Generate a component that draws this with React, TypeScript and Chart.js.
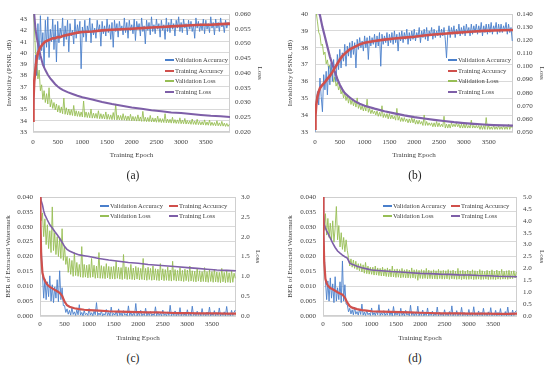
import React, { useEffect, useRef } from 'react';
import { Chart, registerables } from 'chart.js';

Chart.register(...registerables);

// ---------------- data ----------------
const EPOCHS_VAL = [
  0, 25, 50, 75, 100, 125, 150, 175, 200, 225,
  250, 275, 300, 325, 350, 375, 400, 425, 450, 475,
  500, 525, 550, 575, 600, 625, 650, 675, 700, 725,
  750, 775, 800, 825, 850, 875, 900, 925, 950, 975,
  1000, 1025, 1050, 1075, 1100, 1125, 1150, 1175, 1200, 1225,
  1250, 1275, 1300, 1325, 1350, 1375, 1400, 1425, 1450, 1475,
  1500, 1525, 1550, 1575, 1600, 1625, 1650, 1675, 1700, 1725,
  1750, 1775, 1800, 1825, 1850, 1875, 1900, 1925, 1950, 1975,
  2000, 2025, 2050, 2075, 2100, 2125, 2150, 2175, 2200, 2225,
  2250, 2275, 2300, 2325, 2350, 2375, 2400, 2425, 2450, 2475,
  2500, 2525, 2550, 2575, 2600, 2625, 2650, 2675, 2700, 2725,
  2750, 2775, 2800, 2825, 2850, 2875, 2900, 2925, 2950, 2975,
  3000, 3025, 3050, 3075, 3100, 3125, 3150, 3175, 3200, 3225,
  3250, 3275, 3300, 3325, 3350, 3375, 3400, 3425, 3450, 3475,
  3500, 3525, 3550, 3575, 3600, 3625, 3650, 3675, 3700, 3725,
  3750, 3775, 3800, 3825, 3850, 3875, 3900, 3925, 3950, 3975,
];
const EPOCHS_TRAIN = [
  0, 10, 25, 50, 75, 100, 150, 200, 250, 300,
  350, 400, 450, 500, 550, 600, 700, 800, 900, 1000,
  1200, 1400, 1600, 1800, 2000, 2200, 2400, 2600, 2800, 3000,
  3200, 3400, 3600, 3800, 3990,
];
const X_TICKS = [0, 500, 1000, 1500, 2000, 2500, 3000, 3500];
const SERIES_LABELS = ['Validation Accuracy', 'Training Accuracy', 'Validation Loss', 'Training Loss'];

// (a)
const A_VAL_ACC = [
  34.0, 36.5, 39.8, 38.0, 42.6, 39.4, 43.3, 40.2, 41.8, 38.7,
  42.9, 40.5, 43.2, 39.6, 42.1, 41.0, 43.0, 40.3, 42.5, 39.2,
  42.8, 40.9, 42.2, 41.4, 43.1, 40.6, 42.4, 41.2, 42.9, 40.1,
  42.6, 41.5, 42.0, 40.8, 43.0, 41.3, 42.5, 41.7, 42.8, 38.6,
  42.3, 41.4, 42.9, 41.0, 42.4, 41.8, 43.1, 40.9, 42.6, 41.6,
  42.2, 41.3, 42.9, 41.9, 42.5, 40.6, 42.8, 41.7, 42.4, 41.5,
  43.0, 41.8, 42.5, 41.2, 42.7, 40.5, 42.9, 41.9, 42.6, 41.4,
  42.8, 42.0, 42.4, 41.6, 43.1, 41.8, 42.7, 41.3, 42.9, 42.0,
  42.5, 41.7, 43.0, 41.1, 42.8, 42.1, 42.6, 41.5, 43.1, 41.9,
  42.4, 40.8, 42.9, 42.0, 42.7, 41.6, 43.2, 41.9, 42.5, 41.7,
  43.0, 42.1, 42.6, 41.4, 42.9, 42.0, 42.5, 41.2, 43.1, 41.9,
  42.7, 41.8, 43.0, 42.1, 42.6, 41.5, 42.9, 42.2, 43.2, 41.9,
  42.7, 41.8, 43.0, 42.2, 42.6, 41.6, 42.9, 42.1, 42.8, 41.9,
  42.5, 41.3, 43.1, 42.2, 42.8, 41.9, 42.6, 42.0, 43.0, 41.7,
  42.9, 42.1, 42.6, 41.8, 43.2, 42.2, 42.7, 41.6, 43.0, 42.2,
  42.7, 41.9, 43.1, 42.3, 42.6, 41.8, 42.9, 42.2, 42.7, 42.4,
];
const A_TRAIN_ACC = [
  34.0, 36.0, 37.5, 38.6, 39.5, 40.0, 40.5, 40.8, 41.0, 41.1,
  41.2, 41.3, 41.3, 41.4, 41.4, 41.5, 41.6, 41.7, 41.8, 41.85,
  41.9, 42.0, 42.05, 42.1, 42.15, 42.2, 42.25, 42.3, 42.35, 42.4,
  42.45, 42.5, 42.5, 42.55, 42.6,
];
const A_VAL_LOSS = [
  0.064, 0.057, 0.047, 0.044, 0.038, 0.041, 0.034, 0.036, 0.031, 0.034,
  0.030, 0.033, 0.0295, 0.035, 0.0285, 0.031, 0.028, 0.030, 0.0275, 0.0295,
  0.0268, 0.029, 0.0265, 0.0285, 0.0262, 0.0315, 0.0260, 0.0282, 0.0258, 0.0278,
  0.0257, 0.0276, 0.0256, 0.0290, 0.0254, 0.0272, 0.0253, 0.0270, 0.0252, 0.0268,
  0.0251, 0.0305, 0.0250, 0.0268, 0.0249, 0.0266, 0.0248, 0.0278, 0.0247, 0.0264,
  0.0247, 0.0263, 0.0246, 0.0272, 0.0245, 0.0262, 0.0245, 0.0260, 0.0244, 0.0268,
  0.0243, 0.0260, 0.0243, 0.0258, 0.0242, 0.0266, 0.0242, 0.0295, 0.0241, 0.0257,
  0.0241, 0.0256, 0.0240, 0.0262, 0.0240, 0.0255, 0.0239, 0.0254, 0.0239, 0.0260,
  0.0238, 0.0253, 0.0238, 0.0252, 0.0237, 0.0258, 0.0237, 0.0251, 0.0236, 0.0270,
  0.0236, 0.0250, 0.0235, 0.0249, 0.0235, 0.0256, 0.0234, 0.0248, 0.0234, 0.0247,
  0.0233, 0.0254, 0.0233, 0.0246, 0.0232, 0.0245, 0.0232, 0.0262, 0.0231, 0.0244,
  0.0231, 0.0243, 0.0230, 0.0250, 0.0230, 0.0242, 0.0229, 0.0241, 0.0229, 0.0248,
  0.0228, 0.0240, 0.0228, 0.0246, 0.0227, 0.0239, 0.0227, 0.0238, 0.0226, 0.0244,
  0.0226, 0.0237, 0.0225, 0.0243, 0.0225, 0.0236, 0.0224, 0.0235, 0.0224, 0.0241,
  0.0223, 0.0234, 0.0223, 0.0240, 0.0222, 0.0233, 0.0222, 0.0232, 0.0221, 0.0238,
  0.0221, 0.0231, 0.0220, 0.0236, 0.0220, 0.0230, 0.0219, 0.0229, 0.0219, 0.0226,
];
const A_TRAIN_LOSS = [
  0.070, 0.066, 0.060, 0.055, 0.052, 0.050, 0.046, 0.0428, 0.041, 0.0394,
  0.0382, 0.0372, 0.0362, 0.0354, 0.0348, 0.0343, 0.0335, 0.0329, 0.0323, 0.0318,
  0.0310, 0.0302, 0.0295, 0.0289, 0.0283, 0.0279, 0.0274, 0.0270, 0.0266, 0.0264,
  0.0261, 0.0258, 0.0255, 0.0253, 0.0251,
];
const A_LEFT_TICKS = [33, 34, 35, 36, 37, 38, 39, 40, 41, 42, 43];
const A_RIGHT_TICKS = [0.02, 0.025, 0.03, 0.035, 0.04, 0.045, 0.05, 0.055, 0.06];

// (b)
const B_VAL_ACC = [
  33.0, 34.8, 35.4, 34.6, 36.2, 35.1, 34.2, 36.4, 35.5, 36.6,
  35.2, 36.9, 35.8, 37.1, 36.0, 37.3, 36.3, 36.0, 37.6, 36.7,
  37.9, 36.8, 37.7, 37.2, 38.2, 36.9, 38.1, 37.5, 38.3, 37.4,
  38.4, 37.6, 38.3, 36.8, 38.5, 37.9, 38.6, 38.0, 38.4, 37.8,
  38.7, 38.0, 38.6, 37.3, 38.7, 38.1, 38.6, 38.2, 38.8, 38.0,
  38.7, 38.1, 38.9, 36.9, 38.8, 38.2, 38.7, 38.3, 38.9, 38.1,
  38.8, 38.3, 38.9, 38.2, 39.0, 38.3, 38.8, 37.8, 38.9, 38.4,
  39.0, 38.3, 38.9, 38.5, 39.1, 38.2, 38.9, 38.4, 39.0, 38.5,
  39.1, 38.4, 38.9, 38.6, 39.2, 38.3, 39.0, 38.6, 39.1, 38.5,
  39.2, 38.4, 39.0, 38.7, 39.2, 38.5, 39.1, 38.6, 39.0, 38.7,
  39.3, 38.6, 39.1, 38.7, 39.2, 38.5, 37.4, 38.8, 39.3, 38.6,
  39.2, 38.8, 39.3, 38.6, 39.1, 38.8, 39.4, 38.7, 39.2, 38.8,
  39.3, 38.7, 39.4, 38.9, 39.2, 38.7, 39.4, 38.8, 39.3, 38.9,
  39.4, 38.8, 39.3, 38.9, 39.5, 38.7, 39.3, 38.9, 39.4, 38.8,
  39.4, 38.9, 39.5, 38.8, 39.3, 39.0, 39.5, 38.8, 39.4, 38.9,
  39.4, 38.9, 39.3, 39.0, 39.5, 38.8, 39.4, 38.9, 39.2, 38.4,
];
const B_TRAIN_ACC = [
  33.2, 34.0, 34.6, 35.1, 35.4, 35.6, 35.8, 35.95, 36.15, 36.33,
  36.55, 36.8, 37.05, 37.3, 37.5, 37.65, 37.9, 38.05, 38.2, 38.3,
  38.4, 38.48, 38.55, 38.6, 38.65, 38.72, 38.78, 38.83, 38.88, 38.92,
  38.96, 39.0, 39.02, 39.04, 39.05,
];
const B_VAL_LOSS = [
  0.150, 0.141, 0.134, 0.126, 0.124, 0.116, 0.117, 0.109, 0.111, 0.102,
  0.105, 0.098, 0.101, 0.094, 0.096, 0.088, 0.092, 0.085, 0.088, 0.082,
  0.085, 0.079, 0.082, 0.076, 0.080, 0.074, 0.078, 0.072, 0.077, 0.071,
  0.075, 0.070, 0.074, 0.069, 0.076, 0.068, 0.071, 0.067, 0.070, 0.066,
  0.070, 0.066, 0.075, 0.065, 0.068, 0.064, 0.067, 0.064, 0.066, 0.063,
  0.066, 0.062, 0.065, 0.062, 0.070, 0.061, 0.064, 0.061, 0.064, 0.060,
  0.064, 0.060, 0.063, 0.060, 0.062, 0.059, 0.068, 0.059, 0.062, 0.058,
  0.061, 0.058, 0.061, 0.058, 0.060, 0.057, 0.060, 0.057, 0.061, 0.057,
  0.060, 0.056, 0.059, 0.056, 0.059, 0.056, 0.058, 0.055, 0.063, 0.055,
  0.058, 0.055, 0.057, 0.055, 0.057, 0.054, 0.057, 0.054, 0.058, 0.054,
  0.057, 0.054, 0.056, 0.054, 0.062, 0.053, 0.056, 0.053, 0.056, 0.053,
  0.057, 0.054, 0.056, 0.054, 0.057, 0.054, 0.056, 0.053, 0.056, 0.053,
  0.056, 0.053, 0.056, 0.053, 0.055, 0.053, 0.059, 0.053, 0.055, 0.053,
  0.055, 0.053, 0.055, 0.052, 0.055, 0.052, 0.055, 0.052, 0.061, 0.052,
  0.055, 0.052, 0.054, 0.052, 0.055, 0.052, 0.054, 0.052, 0.055, 0.052,
  0.054, 0.052, 0.055, 0.052, 0.054, 0.052, 0.056, 0.052, 0.055, 0.053,
];
const B_TRAIN_LOSS = [
  0.165, 0.158, 0.152, 0.146, 0.142, 0.139, 0.130, 0.1227, 0.115, 0.1075,
  0.1015, 0.0961, 0.0905, 0.086, 0.0825, 0.0797, 0.0763, 0.0735, 0.0715, 0.070,
  0.0678, 0.0658, 0.0642, 0.0627, 0.0614, 0.0603, 0.0593, 0.0584, 0.0575, 0.0568,
  0.0562, 0.0557, 0.0553, 0.055, 0.0548,
];
const B_LEFT_TICKS = [33, 34, 35, 36, 37, 38, 39, 40];
const B_RIGHT_TICKS = [0.05, 0.06, 0.07, 0.08, 0.09, 0.1, 0.11, 0.12, 0.13, 0.14];

// (c)
const C_VAL_ACC = [
  0.040, 0.024, 0.014, 0.006, 0.0125, 0.0055, 0.0115, 0.0065, 0.0135, 0.005,
  0.0105, 0.0045, 0.0098, 0.006, 0.0122, 0.0048, 0.0152, 0.0055, 0.0095, 0.0035,
  0.0035, 0.0012, 0.0024, 0.0006, 0.0019, 0.0003, 0.0028, 0.0005, 0.0014, 0.0002,
  0.0021, 0.0004, 0.0038, 0.0003, 0.0012, 0.0001, 0.0018, 0.0004, 0.0009, 0.0002,
  0.0025, 0.0003, 0.0011, 0.0001, 0.0016, 0.0004, 0.0045, 0.0002, 0.0010, 0.0003,
  0.0017, 0.0001, 0.0008, 0.0003, 0.0022, 0.0002, 0.0012, 0.0001, 0.0030, 0.0002,
  0.0009, 0.0003, 0.0015, 0.0001, 0.0024, 0.0002, 0.0010, 0.0001, 0.0018, 0.0003,
  0.0008, 0.0001, 0.0034, 0.0002, 0.0012, 0.0001, 0.0009, 0.0002, 0.0042, 0.0001,
  0.0011, 0.0002, 0.0019, 0.0001, 0.0008, 0.0002, 0.0026, 0.0001, 0.0010, 0.0002,
  0.0015, 0.0001, 0.0007, 0.0002, 0.0031, 0.0001, 0.0012, 0.0002, 0.0009, 0.0001,
  0.0020, 0.0002, 0.0008, 0.0001, 0.0014, 0.0002, 0.0036, 0.0001, 0.0010, 0.0002,
  0.0017, 0.0001, 0.0009, 0.0002, 0.0028, 0.0001, 0.0011, 0.0002, 0.0007, 0.0001,
  0.0021, 0.0002, 0.0010, 0.0001, 0.0033, 0.0002, 0.0008, 0.0001, 0.0016, 0.0002,
  0.0011, 0.0001, 0.0025, 0.0002, 0.0009, 0.0001, 0.0013, 0.0002, 0.0030, 0.0001,
  0.0008, 0.0002, 0.0018, 0.0001, 0.0011, 0.0002, 0.0027, 0.0001, 0.0009, 0.0002,
  0.0014, 0.0001, 0.0032, 0.0002, 0.0010, 0.0001, 0.0019, 0.0002, 0.0012, 0.0020,
];
const C_TRAIN_ACC = [
  0.040, 0.030, 0.020, 0.0145, 0.0128, 0.0118, 0.0105, 0.0098, 0.0093, 0.0088,
  0.0083, 0.0078, 0.0068, 0.0048, 0.0036, 0.0031, 0.0026, 0.0023, 0.0021, 0.0020,
  0.0018, 0.0016, 0.0015, 0.0014, 0.0013, 0.0012, 0.0012, 0.0011, 0.0010, 0.0010,
  0.0009, 0.0009, 0.0009, 0.0008, 0.0008,
];
const C_VAL_LOSS = [
  2.9, 2.4, 2.6, 2.0, 2.45, 1.8, 2.3, 1.7, 2.15, 1.6,
  2.75, 1.65, 2.1, 1.55, 2.0, 1.5, 1.95, 1.45, 2.2, 1.4,
  1.75, 1.3, 1.5, 1.1, 1.45, 1.05, 1.4, 1.0, 1.6, 1.02,
  1.35, 1.0, 1.3, 0.98, 1.75, 0.97, 1.3, 0.98, 1.28, 0.96,
  1.3, 0.97, 1.45, 0.98, 1.28, 0.95, 1.26, 0.96, 1.6, 0.95,
  1.27, 0.95, 1.25, 0.94, 1.32, 0.96, 1.25, 0.93, 1.24, 0.94,
  1.25, 0.93, 1.38, 0.95, 1.23, 0.93, 1.22, 0.92, 1.55, 0.94,
  1.24, 0.92, 1.22, 0.93, 1.3, 0.92, 1.21, 0.91, 1.25, 0.93,
  1.22, 0.91, 1.2, 0.92, 1.45, 0.91, 1.2, 0.9, 1.23, 0.92,
  1.2, 0.9, 1.26, 0.91, 1.19, 0.9, 1.18, 0.89, 1.32, 0.91,
  1.19, 0.89, 1.17, 0.9, 1.24, 0.89, 1.16, 0.88, 1.38, 0.9,
  1.17, 0.88, 1.15, 0.89, 1.22, 0.88, 1.15, 0.87, 1.18, 0.89,
  1.16, 0.87, 1.26, 0.88, 1.14, 0.87, 1.13, 0.86, 1.2, 0.88,
  1.14, 0.86, 1.12, 0.87, 1.22, 0.86, 1.12, 0.85, 1.16, 0.87,
  1.12, 0.85, 1.18, 0.86, 1.11, 0.85, 1.1, 0.84, 1.2, 0.86,
  1.1, 0.84, 1.14, 0.85, 1.09, 0.84, 1.15, 0.85, 1.08, 0.95,
];
const C_TRAIN_LOSS = [
  3.2, 3.0, 2.9, 2.8, 2.65, 2.55, 2.42, 2.3, 2.22, 2.13,
  2.05, 1.96, 1.86, 1.75, 1.68, 1.64, 1.58, 1.54, 1.52, 1.5,
  1.45, 1.41, 1.38, 1.35, 1.33, 1.3, 1.28, 1.26, 1.24, 1.22,
  1.2, 1.18, 1.16, 1.15, 1.14,
];
const C_LEFT_TICKS = [0, 0.005, 0.01, 0.015, 0.02, 0.025, 0.03, 0.035, 0.04];
const C_RIGHT_TICKS = [0, 0.5, 1, 1.5, 2, 2.5, 3];

// (d)
const D_VAL_ACC = [
  0.040, 0.022, 0.012, 0.0055, 0.0118, 0.005, 0.0128, 0.006, 0.0108, 0.0045,
  0.0132, 0.005, 0.0095, 0.0055, 0.0115, 0.0045, 0.0185, 0.005, 0.0105, 0.004,
  0.0038, 0.0014, 0.0026, 0.0007, 0.0021, 0.0004, 0.0030, 0.0006, 0.0015, 0.0003,
  0.0023, 0.0005, 0.0040, 0.0003, 0.0013, 0.0002, 0.0019, 0.0004, 0.0010, 0.0002,
  0.0027, 0.0003, 0.0012, 0.0002, 0.0017, 0.0004, 0.0038, 0.0002, 0.0011, 0.0003,
  0.0018, 0.0002, 0.0009, 0.0003, 0.0024, 0.0002, 0.0013, 0.0001, 0.0032, 0.0002,
  0.0010, 0.0003, 0.0016, 0.0001, 0.0026, 0.0002, 0.0011, 0.0001, 0.0019, 0.0003,
  0.0009, 0.0001, 0.0036, 0.0002, 0.0013, 0.0001, 0.0010, 0.0002, 0.0033, 0.0001,
  0.0012, 0.0002, 0.0020, 0.0001, 0.0009, 0.0002, 0.0027, 0.0001, 0.0011, 0.0002,
  0.0016, 0.0001, 0.0008, 0.0002, 0.0030, 0.0001, 0.0013, 0.0002, 0.0010, 0.0001,
  0.0021, 0.0002, 0.0009, 0.0001, 0.0015, 0.0002, 0.0034, 0.0001, 0.0011, 0.0002,
  0.0018, 0.0001, 0.0010, 0.0002, 0.0029, 0.0001, 0.0012, 0.0002, 0.0008, 0.0001,
  0.0022, 0.0002, 0.0011, 0.0001, 0.0031, 0.0002, 0.0009, 0.0001, 0.0017, 0.0002,
  0.0012, 0.0001, 0.0026, 0.0002, 0.0010, 0.0001, 0.0014, 0.0002, 0.0028, 0.0001,
  0.0009, 0.0002, 0.0019, 0.0001, 0.0012, 0.0002, 0.0025, 0.0001, 0.0010, 0.0002,
  0.0015, 0.0001, 0.0030, 0.0002, 0.0011, 0.0001, 0.0020, 0.0002, 0.0013, 0.0018,
];
const D_TRAIN_ACC = [
  0.040, 0.028, 0.018, 0.0125, 0.011, 0.0102, 0.0094, 0.009, 0.0085, 0.008,
  0.0076, 0.0072, 0.0062, 0.0045, 0.0033, 0.0028, 0.0023, 0.002, 0.0018, 0.0016,
  0.0015, 0.0014, 0.0013, 0.0012, 0.0011, 0.001, 0.0009, 0.0009, 0.0009, 0.0008,
  0.0008, 0.0008, 0.0007, 0.0007, 0.0008,
];
const D_VAL_LOSS = [
  4.6, 3.6, 4.3, 3.4, 4.1, 3.3, 3.9, 3.2, 4.0, 3.1,
  3.7, 4.6, 3.2, 3.8, 2.9, 3.5, 2.8, 3.3, 2.7, 3.2,
  2.75, 2.45, 2.1, 2.4, 2.05, 2.35, 2.0, 2.3, 1.95, 2.2,
  1.9, 2.2, 1.85, 2.15, 1.8, 2.25, 1.78, 2.1, 1.76, 2.05,
  1.75, 2.05, 1.72, 2.1, 1.72, 2.02, 1.7, 2.0, 1.68, 2.05,
  1.68, 1.98, 1.66, 2.02, 1.65, 1.97, 1.64, 2.1, 1.64, 1.96,
  1.62, 1.98, 1.63, 1.95, 1.6, 2.0, 1.62, 1.94, 1.6, 1.96,
  1.6, 1.93, 1.59, 2.02, 1.6, 1.94, 1.58, 1.95, 1.5, 1.92,
  1.58, 1.95, 1.57, 1.92, 1.58, 2.0, 1.56, 1.93, 1.57, 1.9,
  1.56, 1.94, 1.56, 1.9, 1.55, 1.96, 1.57, 1.9, 1.55, 1.92,
  1.55, 1.9, 1.56, 1.95, 1.54, 1.9, 1.56, 1.93, 1.55, 1.88,
  1.54, 2.0, 1.55, 1.9, 1.53, 1.92, 1.55, 1.88, 1.54, 1.93,
  1.54, 1.89, 1.55, 1.94, 1.53, 1.9, 1.54, 1.88, 1.55, 1.95,
  1.53, 1.9, 1.54, 1.87, 1.55, 1.92, 1.53, 1.89, 1.54, 1.94,
  1.54, 1.88, 1.53, 1.93, 1.55, 1.89, 1.54, 1.96, 1.55, 1.88,
  1.55, 1.9, 1.54, 1.92, 1.56, 1.88, 1.57, 1.9, 1.6, 1.85,
];
const D_TRAIN_LOSS = [
  5.0, 4.3, 3.85, 3.7, 3.58, 3.48, 3.27, 3.06, 2.88, 2.73,
  2.64, 2.56, 2.49, 2.43, 2.22, 2.17, 2.09, 2.03, 1.98, 1.93,
  1.9, 1.87, 1.85, 1.82, 1.79, 1.78, 1.76, 1.75, 1.73, 1.72,
  1.70, 1.69, 1.67, 1.66, 1.65,
];
const D_LEFT_TICKS = [0, 0.005, 0.01, 0.015, 0.02, 0.025, 0.03, 0.035, 0.04];
const D_RIGHT_TICKS = [0, 0.5, 1, 1.5, 2, 2.5, 3, 3.5, 4, 4.5, 5];

// ---------------- styles ----------------
const FONT = "'Liberation Serif', 'Times New Roman', serif";
const TXT = '#404040';
const GRID = '#D9D9D9';
const COLORS = ['#4A7FCB', '#D0504C', '#97BE55', '#7E5FA8'];

type PanelSpec = {
  left: number; top: number; w: number; h: number;
  padTop: number; yW: number; y1W: number; xH: number;
  yMin: number; yMax: number; yTicks: number[]; yDec: number; yTitle: string; yTitlePad: number;
  y1Min: number; y1Max: number; y1Ticks: number[]; y1Dec: number; y1TitlePad: number;
  xTickPad: number; xTitlePad: number; yTickPad: number; y1TickPad: number;
  data: number[][]; // VA, TA, VL, TL
  trainW: number; lossW: number;
};

const framePlugin = {
  id: 'frame',
  beforeDatasetsDraw(chart: any) {
    const { ctx, chartArea } = chart;
    const { left, top, right, bottom } = chartArea;
    ctx.save();
    ctx.strokeStyle = '#CFCFCF';
    ctx.lineWidth = 1;
    ctx.strokeRect(Math.round(left) + 0.5, Math.round(top) + 0.5, Math.round(right - left) - 1, Math.round(bottom - top) - 1);
    ctx.restore();
  },
};

function pts(xs: number[], ys: number[]) {
  return xs.map((x, i) => ({ x, y: ys[i] }));
}

function Panel({ s }: { s: PanelSpec }) {
  const ref = useRef<HTMLCanvasElement>(null);
  useEffect(() => {
    const font = { family: FONT, size: 7 };
    const [va, ta, vl, tl] = s.data;
    const chart = new Chart(ref.current!, {
      type: 'line',
      data: {
        datasets: [
          { label: SERIES_LABELS[0], data: pts(EPOCHS_VAL, va), borderColor: COLORS[0], borderWidth: 0.9, yAxisID: 'y', order: 3, clip: 0 },
          { label: SERIES_LABELS[1], data: pts(EPOCHS_TRAIN, ta), borderColor: COLORS[1], borderWidth: s.trainW, yAxisID: 'y', order: 1, clip: 0 },
          { label: SERIES_LABELS[2], data: pts(EPOCHS_VAL, vl), borderColor: COLORS[2], borderWidth: 0.9, yAxisID: 'y1', order: 4, clip: 0 },
          { label: SERIES_LABELS[3], data: pts(EPOCHS_TRAIN, tl), borderColor: COLORS[3], borderWidth: s.lossW, yAxisID: 'y1', order: 2, clip: 0 },
        ] as any,
      },
      options: {
        responsive: false,
        animation: false,
        devicePixelRatio: 1,
        layout: { padding: { top: s.padTop, left: 0, right: 0, bottom: 0 } },
        plugins: { legend: { display: false }, tooltip: { enabled: false } },
        elements: { point: { radius: 0 }, line: { tension: 0 } },
        scales: {
          x: {
            type: 'linear', min: 0, max: 3990,
            afterBuildTicks: (sc: any) => { sc.ticks = X_TICKS.map((v) => ({ value: v })); },
            afterFit: (sc: any) => { sc.height = s.xH; },
            grid: { display: false, drawTicks: false }, border: { display: false },
            ticks: { font, color: TXT, padding: s.xTickPad, autoSkip: false, maxRotation: 0, callback: (v: any) => String(v) },
            title: { display: true, text: 'Training Epoch', font, color: TXT, padding: { top: 0, bottom: s.xTitlePad } },
          },
          y: {
            type: 'linear', position: 'left', min: s.yMin, max: s.yMax,
            afterBuildTicks: (sc: any) => { sc.ticks = s.yTicks.map((v) => ({ value: v })); },
            afterFit: (sc: any) => { sc.width = s.yW; },
            grid: { color: GRID, lineWidth: 1, drawTicks: false }, border: { display: false },
            ticks: { font, color: TXT, padding: s.yTickPad, autoSkip: false, callback: (v: any) => Number(v).toFixed(s.yDec) },
            title: { display: true, text: s.yTitle, font, color: TXT, padding: { top: s.yTitlePad, bottom: 0 } },
          },
          y1: {
            type: 'linear', position: 'right', min: s.y1Min, max: s.y1Max,
            afterBuildTicks: (sc: any) => { sc.ticks = s.y1Ticks.map((v) => ({ value: v })); },
            afterFit: (sc: any) => { sc.width = s.y1W; },
            grid: { drawOnChartArea: false, drawTicks: false }, border: { display: false },
            ticks: { font, color: TXT, padding: s.y1TickPad, autoSkip: false, callback: (v: any) => Number(v).toFixed(s.y1Dec) },
            title: { display: true, text: 'Loss', font, color: TXT, padding: { top: s.y1TitlePad, bottom: 0 } },
          },
        },
      } as any,
      plugins: [framePlugin],
    });
    return () => chart.destroy();
  }, []);
  return (
    <canvas
      ref={ref}
      width={s.w}
      height={s.h}
      style={{ position: 'absolute', left: s.left, top: s.top, width: s.w, height: s.h }}
    />
  );
}

function LegendItem({ x, y, idx }: { x: number; y: number; idx: number }) {
  return (
    <div style={{ position: 'absolute', left: x, top: y - 5, height: 10, display: 'flex', alignItems: 'center', whiteSpace: 'nowrap' }}>
      <span style={{ display: 'inline-block', width: 9, height: 2, background: COLORS[idx], marginRight: 1 }} />
      <span style={{ fontFamily: FONT, fontSize: 6.5, color: TXT, lineHeight: '10px' }}>{SERIES_LABELS[idx]}</span>
    </div>
  );
}

const PANELS: PanelSpec[] = [
  {
    left: 0, top: 0, w: 275, h: 165, padTop: 14, yW: 33, y1W: 45, xH: 33,
    yMin: 33, yMax: 43.45, yTicks: A_LEFT_TICKS, yDec: 0, yTitle: 'Invisibility (PSNR, dB)', yTitlePad: 5,
    y1Min: 0.02, y1Max: 0.06, y1Ticks: A_RIGHT_TICKS, y1Dec: 3, y1TitlePad: 10.5,
    xTickPad: 5.5, xTitlePad: 5.5, yTickPad: 6, y1TickPad: 5,
    data: [A_VAL_ACC, A_TRAIN_ACC, A_VAL_LOSS, A_TRAIN_LOSS], trainW: 2.6, lossW: 2,
  },
  {
    left: 275, top: 0, w: 275, h: 165, padTop: 14, yW: 40, y1W: 37, xH: 33,
    yMin: 33, yMax: 40, yTicks: B_LEFT_TICKS, yDec: 0, yTitle: 'Invisibility (PSNR, dB)', yTitlePad: 10.5,
    y1Min: 0.05, y1Max: 0.14, y1Ticks: B_RIGHT_TICKS, y1Dec: 3, y1TitlePad: 3.5,
    xTickPad: 5.5, xTitlePad: 5.5, yTickPad: 7, y1TickPad: 4,
    data: [B_VAL_ACC, B_TRAIN_ACC, B_VAL_LOSS, B_TRAIN_LOSS], trainW: 2.6, lossW: 2.2,
  },
  {
    left: 0, top: 180, w: 275, h: 168, padTop: 17, yW: 40, y1W: 39, xH: 32,
    yMin: 0, yMax: 0.04, yTicks: C_LEFT_TICKS, yDec: 3, yTitle: 'BER of Extracted Watermark', yTitlePad: 3.5,
    y1Min: 0, y1Max: 3, y1Ticks: C_RIGHT_TICKS, y1Dec: 1, y1TitlePad: 12.5,
    xTickPad: 3.5, xTitlePad: 5.5, yTickPad: 7, y1TickPad: 5,
    data: [C_VAL_ACC, C_TRAIN_ACC, C_VAL_LOSS, C_TRAIN_LOSS], trainW: 2.2, lossW: 1.6,
  },
  {
    left: 275, top: 180, w: 275, h: 168, padTop: 17, yW: 48, y1W: 33, xH: 32,
    yMin: 0, yMax: 0.04, yTicks: D_LEFT_TICKS, yDec: 3, yTitle: 'BER of Extracted Watermark', yTitlePad: 10.5,
    y1Min: 0, y1Max: 5, y1Ticks: D_RIGHT_TICKS, y1Dec: 1, y1TitlePad: 3.5,
    xTickPad: 3.5, xTitlePad: 5.5, yTickPad: 7, y1TickPad: 6,
    data: [D_VAL_ACC, D_TRAIN_ACC, D_VAL_LOSS, D_TRAIN_LOSS], trainW: 2.2, lossW: 1.6,
  },
];

const CAPTIONS = ['(a)', '(b)', '(c)', '(d)'];

export default function App() {
  const capStyle = (x: number, y: number): React.CSSProperties => ({
    position: 'absolute', left: x - 20, top: y - 8, width: 40, height: 16, textAlign: 'center',
    fontFamily: FONT, fontSize: 11.5, lineHeight: '16px', color: '#222',
  });
  return (
    <div style={{ position: 'fixed', left: 0, top: 0, width: 550, height: 368, background: '#fff', overflow: 'hidden' }}>
      {PANELS.map((p, i) => <Panel key={i} s={p} />)}
      {[0, 1, 2, 3].map((k) => <LegendItem key={'a' + k} x={165} y={60 + k * 10.7} idx={k} />)}
      {[0, 1, 2, 3].map((k) => <LegendItem key={'b' + k} x={448} y={60 + k * 10.7} idx={k} />)}
      {[0, 1, 2, 3].map((k) => <LegendItem key={'c' + k} x={k % 2 === 0 ? 100 : 169} y={205.7 + Math.floor(k / 2) * 10.6} idx={k} />)}
      {[0, 1, 2, 3].map((k) => <LegendItem key={'d' + k} x={k % 2 === 0 ? 383 : 451} y={205.7 + Math.floor(k / 2) * 10.6} idx={k} />)}
      <div style={capStyle(133, 175)}>{CAPTIONS[0]}</div>
      <div style={capStyle(415, 175)}>{CAPTIONS[1]}</div>
      <div style={capStyle(133, 358)}>{CAPTIONS[2]}</div>
      <div style={capStyle(415, 358)}>{CAPTIONS[3]}</div>
    </div>
  );
}
